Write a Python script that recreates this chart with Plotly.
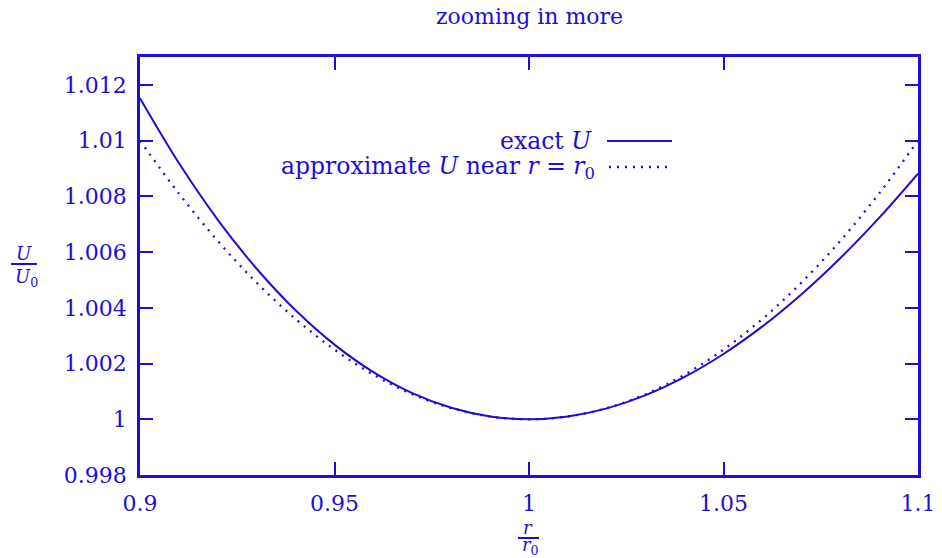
import plotly.graph_objects as go

# r / r0 sample positions
r_ratio = [0.90, 0.91, 0.92, 0.93, 0.94, 0.95, 0.96, 0.97, 0.98, 0.99, 1.00,
           1.01, 1.02, 1.03, 1.04, 1.05, 1.06, 1.07, 1.08, 1.09, 1.10]

# exact U / U0
u_exact = [1.011523, 1.009195, 1.007158, 1.005401, 1.003911, 1.002678, 1.001690,
           1.000937, 1.000411, 1.000101, 1.000000, 1.000099, 1.000390, 1.000865,
           1.001519, 1.002343, 1.003332, 1.004480, 1.005780, 1.007227, 1.008815]

# approximate U / U0 near r = r0
u_approx = [1.0100, 1.0081, 1.0064, 1.0049, 1.0036, 1.0025, 1.0016, 1.0009, 1.0004,
            1.0001, 1.0000, 1.0001, 1.0004, 1.0009, 1.0016, 1.0025, 1.0036, 1.0049,
            1.0064, 1.0081, 1.0100]

x_ticks = [0.9, 0.95, 1.0, 1.05, 1.1]
x_tick_text = ["0.9", "0.95", "1", "1.05", "1.1"]
y_ticks = [0.998, 1.0, 1.002, 1.004, 1.006, 1.008, 1.01, 1.012]
y_tick_text = ["0.998", "1", "1.002", "1.004", "1.006", "1.008", "1.01", "1.012"]

BLUE = "#1e0ed2"
FONT = "DejaVu Serif"
FS = 22
DOTS = "2px,6px"

fig = go.Figure()
fig.add_trace(go.Scatter(x=r_ratio, y=u_exact, mode="lines", line_shape="spline",
                         line=dict(color=BLUE, width=2), showlegend=False))
fig.add_trace(go.Scatter(x=r_ratio, y=u_approx, mode="lines", line_shape="spline",
                         line=dict(color=BLUE, width=2.3, dash=DOTS),
                         showlegend=False))

L, R, T, B = 140, 24, 57, 83
W, H = 942, 558
pw, ph = W - L - R, H - T - B


def px(x):
    return (x - L) / pw


def py(y):
    return (H - B - y) / ph


def label(text, x, y, size=FS, xanchor="center"):
    return dict(text=text, x=px(x), y=py(y), xref="paper", yref="paper",
                xanchor=xanchor, yanchor="middle", showarrow=False,
                font=dict(family=FONT, size=size, color=BLUE))


axis_common = dict(showgrid=False, zeroline=False, showline=True, linecolor=BLUE,
                   linewidth=2.5, mirror="ticks", ticks="inside", ticklen=13,
                   tickwidth=2, tickcolor=BLUE, automargin=False,
                   tickfont=dict(family=FONT, size=FS, color=BLUE))

fig.update_xaxes(range=[0.9, 1.1], tickvals=x_ticks, ticktext=x_tick_text,
                 ticklabelstandoff=7, **axis_common)
fig.update_yaxes(range=[0.998, 1.013], tickvals=y_ticks, ticktext=y_tick_text,
                 ticklabelstandoff=6, **axis_common)

annotations = [
    label("zooming in more", 529, 17),
    # legend entries, right aligned with sample to the right
    label("exact <i>U</i>", 594, 141, size=23.5, xanchor="right"),
    label("approximate <i>U</i> near <i>r</i> = <i>r</i><sub>0</sub>", 597, 167,
          size=23.5, xanchor="right"),
    # y axis label: U / U0
    label("<i>U</i>", 24, 253, size=18),
    label("<i>U</i><sub>0</sub>", 26, 278, size=18),
    # x axis label: r / r0
    label("<i>r</i>", 528, 527, size=18),
    label("<i>r</i><sub>0</sub>", 530, 546, size=18),
]

shapes = [
    dict(type="line", xref="paper", yref="paper", x0=px(607), x1=px(672),
         y0=py(141), y1=py(141), line=dict(color=BLUE, width=2)),
    dict(type="line", xref="paper", yref="paper", x0=px(609), x1=px(672),
         y0=py(167), y1=py(167), line=dict(color=BLUE, width=2.3, dash=DOTS)),
    dict(type="line", xref="paper", yref="paper", x0=px(11), x1=px(37),
         y0=py(264), y1=py(264), line=dict(color=BLUE, width=2)),
    dict(type="line", xref="paper", yref="paper", x0=px(518), x1=px(539),
         y0=py(538), y1=py(538), line=dict(color=BLUE, width=2)),
]

fig.update_layout(width=W, height=H, margin=dict(l=L, r=R, t=T, b=B),
                  paper_bgcolor="white", plot_bgcolor="white",
                  annotations=annotations, shapes=shapes, showlegend=False)

fig.write_html("out.html")
